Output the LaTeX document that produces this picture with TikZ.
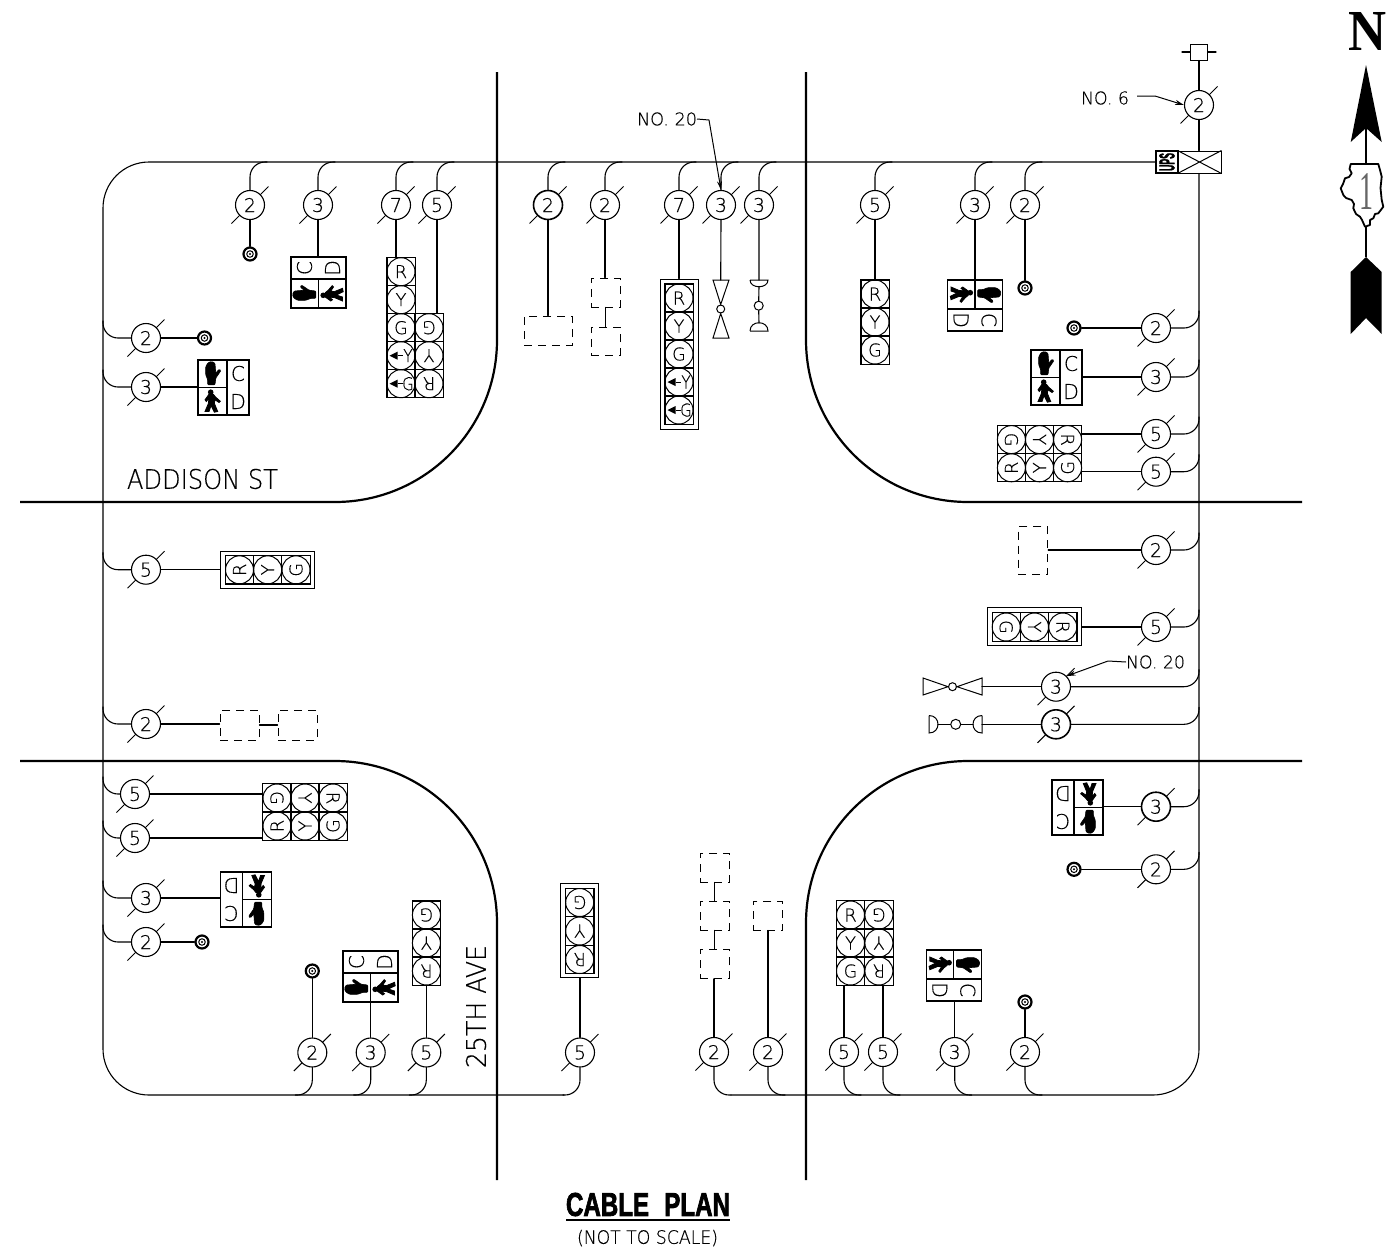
\documentclass[tikz,border=0pt]{standalone}
\usepackage{fontspec}
\usepackage{graphicx}
\usetikzlibrary{arrows.meta,calc}
\setmainfont{Liberation Sans}
\newfontfamily\cadf[FakeBold=0.4]{DejaVu Sans ExtraLight}
\newfontfamily\heavyf[FakeBold=2.5]{Liberation Sans Bold}
\newfontfamily\northf{Liberation Serif Bold}
\newfontfamily\shieldf{Liberation Serif}
\newcommand{\cadh}[2]{\resizebox{!}{#1pt}{\cadf #2}}
\newcommand{\cadwh}[3]{\resizebox{#1pt}{#2pt}{\cadf #3}}
\newcount\cellno
\tikzset{
  wire/.style={line width=1.1pt,line cap=round},
  road/.style={line width=2.2pt},
  lead/.style={line width=1pt,-{Stealth[length=9pt,width=5pt]}},
  cabc/.style={circle,draw,fill=white,minimum size=29pt,inner sep=0pt,line width=1.1pt},
  cabt/.style={cabc,line width=1.6pt},
  tick/.style={line width=1pt},
  cellsq/.style={rectangle,draw,minimum size=28.2pt,inner sep=0pt,line width=1pt},
  cellci/.style={circle,draw,minimum size=28pt,inner sep=0pt,line width=1pt},
  grp/.style={rectangle,draw,inner sep=0pt,line width=1pt},
  dbox/.style={rectangle,draw,inner sep=0pt,line width=1pt,dash pattern=on 8pt off 6pt},
  pedout/.style={rectangle,draw,inner sep=0pt,line width=1.2pt},
  txt/.style={inner sep=0pt,outer sep=0pt},
  detout/.style={circle,draw,line width=2.2pt,minimum size=13pt,inner sep=0pt,fill=white},
  detin/.style={circle,draw,line width=1pt,minimum size=6.5pt,inner sep=0pt},
  lampc/.style={circle,draw,line width=1pt,minimum size=9pt,inner sep=0pt},
  pedpic/.pic={
    \draw[line width=1.2pt] (3.5,-27.5)--(3.5,27.5) (-25.5,0)--(3.5,0);
    \filldraw[line width=.6pt,rounded corners=1pt,shift={(-11.5,-14)}] (-4.3,11.3)--(3,11.3)--(3.7,4.7)--(9,-3)--(7,-4.3)--(3.7,-0.3)--(3,-10.3)--(-0.3,-12)--(-3.7,-11)--(-6.3,-7)--(-6.3,1.3)--(-4.3,6.3)--cycle;
    \filldraw[line width=.8pt,shift={(-11.5,14)}] (-3,-7.3)--(1.3,-7.3)--(3.7,-4.3)--(8.3,-0.3)--(7,1)--(3,-1.7)--(2.3,1.7)--(5.7,10)--(2.3,10.7)--(-1,4)--(-3,10)--(-7,10)--(-3.7,2.3)--(-3,-3.3)--(-5.7,0)--(-7,-1.7)--cycle;
    \fill[shift={(-11.5,14)}] (-1.3,-9.3) circle[radius=2.8];
    \node[txt,transform shape] (c) at (14.5,-14) {\cadh{15}{C}};
    \node[txt,transform shape] (d) at (14.5,14) {\cadh{15}{D}};
  }
}
\newcommand{\cab}[5][cabc]{%
  \draw[tick] (#3-18.5,#4+18.5)--(#3+18.5,#4-18.5);
  \node[#1] (#2) at (#3,#4) {\cadh{14}{#5}};}
\newcommand{\sigc}[4]{%
  \global\advance\cellno by 1
  \node[cellsq] (sq\the\cellno) at (#1,#2) {};
  \node[cellci,rotate=#4] (ci\the\cellno) at (#1,#2) {\cadh{13}{#3}};}
\newcommand{\arrc}[3]{%
  \global\advance\cellno by 1
  \node[cellsq] (sq\the\cellno) at (#1,#2) {};
  \node[cellci] (ci\the\cellno) at (#1,#2) {};
  \fill (#1-11.5,#2)--(#1-3.5,#2-4)--(#1-3.5,#2+4)--cycle;
  \draw[line width=1pt] (#1-3.5,#2)--(#1+1.5,#2);
  \node[txt] (tx\the\cellno) at (#1+7,#2) {\scalebox{.85}[1]{\cadh{13}{#3}}};}
\newcommand{\pedbox}[6]{%
  \node[pedout,minimum width=#5pt,minimum height=#6pt] (#1) at (#2,#3) {};
  \pic (#1p) [rotate=#4] at (#2,#3) {pedpic};}
\newcommand{\detc}[3]{%
  \node[detout] (#1) at (#2,#3) {};
  \node[detin,fill=white] (#1i) at (#2,#3) {};
  \fill (#2,#3) circle[radius=1.1];}
\newcommand{\brT}[1]{\draw[wire,rounded corners=15pt] (#1.north)--(#1.north |- topbus)--([xshift=17pt]#1.north |- topbus);}
\newcommand{\brL}[1]{\draw[wire,rounded corners=15pt] (#1.west)--(#1.west -| leftbus)--([yshift=17pt]#1.west -| leftbus);}
\newcommand{\brR}[1]{\draw[wire,rounded corners=15pt] (#1.east)--(#1.east -| rightbus)--([yshift=17pt]#1.east -| rightbus);}
\newcommand{\brA}[1]{\draw[wire,rounded corners=15pt] (#1.south)--(#1.south |- botbus)--([xshift=-17pt]#1.south |- botbus);}
\newcommand{\brB}[1]{\draw[wire,rounded corners=15pt] (#1.south)--(#1.south |- botbus)--([xshift=17pt]#1.south |- botbus);}
\newcommand{\wireS}[2]{\draw[wire] (#1.south)--(#1.south |- #2.north);}
\newcommand{\wireN}[2]{\draw[wire] (#1.north)--(#1.north |- #2.south);}
\newcommand{\wireW}[2]{\draw[wire] (#1.west)--(#1.west -| #2.east);}
\newcommand{\wireE}[2]{\draw[wire] (#1.east)--(#1.east -| #2.west);}
\begin{document}
\begin{tikzpicture}[x=1pt,y=-1pt]
\fill[white] (0,0) rectangle (1389,1248);
\useasboundingbox (0,0) rectangle (1389,1248);
\coordinate (topbus) at (600,162);
\coordinate (botbus) at (600,1095);
\coordinate (leftbus) at (103,600);
\coordinate (rightbus) at (1199,600);
% roads
\draw[road,rounded corners=162pt] (497,72)--(497,502)--(20,502);
\draw[road,rounded corners=162pt] (806,72)--(806,502)--(1302,502);
\draw[road,rounded corners=162pt] (20,761)--(497,761)--(497,1180);
\draw[road,rounded corners=162pt] (1302,761)--(806,761)--(806,1180);
% service
\node[rectangle,draw,line width=1pt,minimum width=17pt,minimum height=16pt,inner sep=0pt] (feed) at (1199,52) {};
\coordinate (feedL) at (1182,52); \coordinate (feedR) at (1216,52);
\draw[wire] (feedL)--(feed.west) (feed.east)--(feedR);
\node[rectangle,draw,line width=1pt,minimum width=43pt,minimum height=22pt,inner sep=0pt] (xbox) at (1199.5,162) {};
\draw[line width=1pt] (xbox.north west)--(xbox.south east) (xbox.south west)--(xbox.north east);
\node[rectangle,draw,line width=1.8pt,minimum size=22pt,inner sep=0pt] (ups) at (1167,162) {\rotatebox{90}{\resizebox{18pt}{15pt}{\heavyf UPS}}};
\cab{cS}{1199}{105}{2}
\draw[wire] (feed.south)--(cS.north) (cS.south)--(cS.south |- xbox.north);
% main bus
\coordinate (nwC) at (103,162); \coordinate (swC) at (103,1095); \coordinate (seC) at (1199,1095);
\draw[wire,rounded corners=46pt] (ups.west)--(nwC)--(swC)--(564,1095);
\draw[wire,rounded corners=46pt] (731,1095)--(seC)--(rightbus |- xbox.south);
% ===== north side
\cab{t1}{250}{205}{2}\cab{t2}{318}{205}{3}\cab{t3}{396}{205}{7}\cab{t4}{437}{205}{5}
\cab[cabt]{t5}{548}{205}{2}\cab{t6}{605}{205}{2}\cab{t7}{679}{205}{7}\cab{t8}{721}{205}{3}\cab{t9}{759}{205}{3}
\cab{t10}{875}{205}{5}\cab{t11}{975}{205}{3}\cab{t12}{1025}{205}{2}
\foreach \n in {t1,t2,t3,t4,t5,t6,t7,t8,t9,t10,t11,t12}{\brT{\n}}
\detc{d1}{250}{254}\wireS{t1}{d1}
\pedbox{p1}{318.5}{282.5}{90}{55}{51}\wireS{t2}{p1}
\node[grp,minimum width=28pt,minimum height=140pt] (sA) at (401,327.7) {};
\node[grp,minimum width=28pt,minimum height=84pt] (sB) at (429,355.7) {};
\sigc{401}{271.7}{R}{0}\sigc{401}{299.7}{Y}{0}\sigc{401}{327.7}{G}{0}\arrc{401}{355.7}{Y}\arrc{401}{383.7}{G}
\sigc{429}{327.7}{G}{180}\sigc{429}{355.7}{Y}{180}\sigc{429}{383.7}{R}{180}
\wireS{t3}{sA}\wireS{t4}{sB}
\node[dbox,minimum width=48pt,minimum height=29pt] (da1) at (548,330.5) {};
\wireS{t5}{da1}
\node[dbox,minimum width=29pt,minimum height=29pt] (da2) at (605.5,292.5) {};
\node[dbox,minimum width=29pt,minimum height=28pt] (da3) at (605.5,341) {};
\wireS{t6}{da2}\draw[wire] (da2.south)--(da3.north);
\node[grp,minimum width=38pt,minimum height=150pt] (sC) at (679,354) {};
\node[grp,minimum width=28pt,minimum height=140pt] (sCi) at (679,354) {};
\sigc{679}{298}{R}{0}\sigc{679}{326}{Y}{0}\sigc{679}{354}{G}{0}\arrc{679}{382}{Y}\arrc{679}{410}{G}
\wireS{t7}{sC}
% vehicle lamp symbols
\node[lampc,minimum size=8pt] (bt1) at (720.7,309) {};
\draw[line width=1pt] (713,280)--(729,280)--(bt1.north)--cycle (bt1.south)--(713,338)--(729,338)--cycle;
\coordinate (bt1t) at (720.7,280);
\draw[wire] (t8.south)--(bt1t);
\node[lampc] (ph1) at (758.7,305.7) {};
\draw[line width=1pt] (750,280)--(768,280) .. controls (768,289) and (750,289) .. (750,280);
\draw[line width=1pt] (750,331)--(768,331) .. controls (768,320) and (750,320) .. (750,331);
\coordinate (ph1a) at (759,286.5); \coordinate (ph1b) at (759,323);
\draw[wire] (t9.south)--(759,280) (ph1a)--(ph1.north) (ph1.south)--(ph1b);
\node[txt] (n20a) at (667,119) {\cadwh{60}{13}{NO. 20}};
\coordinate (n20ak) at (709,120);
\draw[lead] (n20a.east)--(n20ak)--(t8.north);
\node[grp,minimum width=28pt,minimum height=84pt] (sD) at (875,322) {};
\sigc{875}{294}{R}{0}\sigc{875}{322}{Y}{0}\sigc{875}{350}{G}{0}
\wireS{t10}{sD}
\pedbox{p2}{975}{305.5}{270}{55}{51}\wireS{t11}{p2}
\detc{d2}{1025}{288}\wireS{t12}{d2}
\node[txt] (n6) at (1105,98) {\cadwh{48}{13}{NO. 6}};
\coordinate (n6a) at (1137,96); \coordinate (n6b) at (1155,96);
\draw[lead] (n6a)--(n6b)--(cS.west);
% ===== east side
\cab{r1}{1156}{328}{2}\cab{r2}{1156}{377}{3}\cab{r3}{1156}{434}{5}\cab{r4}{1156}{471.7}{5}\cab{r5}{1156}{550}{2}\cab{r6}{1156}{627}{5}
\cab{r7}{1056}{686.7}{3}\cab[cabt]{r8}{1056}{724.3}{3}\cab[cabt]{r9}{1156}{806.7}{3}\cab{r10}{1156}{869.3}{2}
\foreach \n in {r1,r2,r3,r4,r5,r6,r7,r8,r9,r10}{\brR{\n}}
\detc{d3}{1074}{328}\wireW{r1}{d3}
\pedbox{p3}{1056.5}{377.5}{0}{51}{55}\wireW{r2}{p3}
\node[grp,minimum width=84.4pt,minimum height=56.4pt] (sE) at (1039.5,453.7) {};
\sigc{1011.4}{439.6}{G}{270}\sigc{1039.5}{439.6}{Y}{270}\sigc{1067.6}{439.6}{R}{270}
\sigc{1011.4}{467.8}{R}{90}\sigc{1039.5}{467.8}{Y}{90}\sigc{1067.6}{467.8}{G}{90}
\wireW{r3}{sE}\wireW{r4}{sE}
\node[dbox,minimum width=29.5pt,minimum height=48pt] (da4) at (1033,550.5) {};
\wireW{r5}{da4}
\node[grp,minimum width=93.3pt,minimum height=38pt] (sF) at (1034.5,626.7) {};
\node[grp,minimum width=85pt,minimum height=28.6pt] (sFi) at (1034.5,627) {};
\sigc{1006.2}{627}{G}{270}\sigc{1034.5}{627}{Y}{270}\sigc{1062.8}{627}{R}{270}
\wireW{r6}{sF}
\node[lampc,minimum size=8pt] (bt2) at (952.5,686.7) {};
\draw[line width=1pt] (923,678)--(923,695)--(bt2.west)--cycle (bt2.east)--(982,678)--(982,695)--cycle;
\coordinate (bt2e) at (982,686.7);
\draw[wire] (r7.west)--(bt2e);
\node[lampc,minimum size=10pt] (ph2) at (955.7,724.3) {};
\draw[line width=1pt] (929,715.5)--(929,733) .. controls (941,733) and (941,715.5) .. (929,715.5);
\draw[line width=1pt] (982,715.5)--(982,733) .. controls (970,733) and (970,715.5) .. (982,715.5);
\coordinate (ph2a) at (938,724.3); \coordinate (ph2b) at (973,724.3); \coordinate (ph2c) at (982,724.3);
\draw[wire] (ph2a)--(ph2.west) (ph2.east)--(ph2b) (ph2c)--(r8.west);
\node[txt] (n20b) at (1155.5,662) {\cadwh{59}{13}{NO. 20}};
\coordinate (n20bk) at (1108,661);
\draw[lead] (n20b.west)--(n20bk)--(r7.45);
\pedbox{p4}{1077.5}{807.5}{180}{51}{55}\wireW{r9}{p4}
\detc{d4}{1074}{869.3}\wireW{r10}{d4}
% ===== west side
\cab{l1}{146}{338}{2}\cab{l2}{146}{387}{3}\cab{l3}{146}{569.7}{5}\cab{l4}{146}{724}{2}
\cab{l5}{135}{794}{5}\cab{l6}{135}{838}{5}\cab{l7}{146}{898}{3}\cab{l8}{146}{942}{2}
\foreach \n in {l1,l2,l3,l4,l5,l6,l7,l8}{\brL{\n}}
\detc{d5}{204.5}{338}\wireE{l1}{d5}
\pedbox{p5}{223.5}{387.5}{0}{51}{55}\wireE{l2}{p5}
\node[grp,minimum width=93.6pt,minimum height=37.4pt] (sG) at (267.5,569.7) {};
\node[grp,minimum width=85pt,minimum height=28.4pt] (sGi) at (267.7,569.8) {};
\sigc{239.5}{569.8}{R}{90}\sigc{267.7}{569.8}{Y}{90}\sigc{296}{569.8}{G}{90}
\wireE{l3}{sG}
\node[dbox,minimum width=39pt,minimum height=30pt] (da5) at (239.5,725) {};
\node[dbox,minimum width=39pt,minimum height=30pt] (da6) at (297.5,725) {};
\wireE{l4}{da5}\draw[wire] (da5.east)--(da6.west);
\node[grp,minimum width=84.4pt,minimum height=56.4pt] (sH) at (305,812) {};
\sigc{277}{798}{G}{270}\sigc{305}{798}{Y}{270}\sigc{333}{798}{R}{270}
\sigc{277}{826}{R}{90}\sigc{305}{826}{Y}{90}\sigc{333}{826}{G}{90}
\wireE{l5}{sH}\draw[wire] (l6.east)--(l6.east -| sH.west);
\pedbox{p6}{246}{899.5}{180}{51}{55}\wireE{l7}{p6}
\detc{d6}{202}{942}\wireE{l8}{d6}
% ===== south side
\cab{b1}{312.3}{1052.5}{2}\cab{b2}{370.7}{1052.5}{3}\cab{b3}{426.3}{1052.5}{5}\cab{b4}{580}{1052.5}{5}
\cab{b5}{714}{1052}{2}\cab{b6}{768}{1052}{2}\cab{b7}{844}{1052}{5}\cab{b8}{883}{1052}{5}\cab{b9}{954.7}{1052}{3}\cab{b10}{1025}{1052}{2}
\foreach \n in {b1,b2,b3,b4}{\brA{\n}}
\foreach \n in {b5,b6,b7,b8,b9,b10}{\brB{\n}}
\detc{d7}{312.3}{971}\wireN{b1}{d7}
\pedbox{p7}{370.5}{976.5}{90}{55}{51}\wireN{b2}{p7}
\node[grp,minimum width=28.6pt,minimum height=84pt] (sI) at (426.4,943) {};
\sigc{426.4}{915}{G}{180}\sigc{426.4}{943}{Y}{180}\sigc{426.4}{971}{R}{180}
\wireN{b3}{sI}
\node[grp,minimum width=37.6pt,minimum height=93.3pt] (sJ) at (579.5,930.6) {};
\node[grp,minimum width=28.6pt,minimum height=85pt] (sJi) at (579.7,931) {};
\sigc{579.7}{902.5}{G}{180}\sigc{579.7}{931}{Y}{180}\sigc{579.7}{959.5}{R}{180}
\wireN{b4}{sJ}
\node[dbox,minimum width=29pt,minimum height=29pt] (da7) at (714.5,867.5) {};
\node[dbox,minimum width=29pt,minimum height=29pt] (da8) at (714.5,915.5) {};
\node[dbox,minimum width=29pt,minimum height=29pt] (da9) at (714.5,963.8) {};
\wireN{b5}{da9}\draw[wire] (da9.north)--(da8.south) (da8.north)--(da7.south);
\node[dbox,minimum width=29.5pt,minimum height=29pt] (da10) at (768,915.5) {};
\wireN{b6}{da10}
\node[grp,minimum width=28.4pt,minimum height=84.3pt] (sK) at (850.5,943) {};
\node[grp,minimum width=28.4pt,minimum height=84.3pt] (sL) at (878.9,943) {};
\sigc{850.5}{915}{R}{0}\sigc{850.5}{943}{Y}{0}\sigc{850.5}{971}{G}{0}
\sigc{878.9}{915}{G}{180}\sigc{878.9}{943}{Y}{180}\sigc{878.9}{971}{R}{180}
\wireN{b7}{sK}\wireN{b8}{sL}
\pedbox{p8}{953.8}{975.5}{270}{55}{51}\wireN{b9}{p8}
\detc{d8}{1025}{1002}\wireN{b10}{d8}
% labels
\node[txt] (addison) at (202.5,479) {\cadwh{151}{20}{ADDISON ST}};
\node[txt,rotate=90] (ave) at (476,1006.5) {\cadwh{123}{20}{25TH AVE}};
\node[txt] (title) at (648,1204.5) {\resizebox{164pt}{23pt}{\heavyf CABLE\hspace{.35em} PLAN}};
\draw[line width=1.4pt] ([yshift=-4pt]title.south west)--([yshift=-4pt]title.south east);
\node[txt] (sub) at (647.5,1238) {\cadwh{141}{14}{(NOT TO SCALE)}};
% north arrow
\node[txt] (north) at (1367,31) {\resizebox{38pt}{38pt}{\northf N}};
\fill[black] (1366,65)--(1381.7,142)--(1366,128)--(1350.7,142)--cycle;
\fill[black] (1366,257)--(1381.7,272)--(1381.7,334)--(1366,318)--(1350.7,334)--(1350.7,272)--cycle;
\draw[black,line width=1.2pt] (1366,128)--(1366,164) (1366,226.7)--(1366,257);
\draw[black,line width=1.8pt,line join=round] (1350.7,164)--(1378.3,164)--(1380,170)--(1381.7,176.7)--(1380.5,188)--(1381.7,200)--(1383.3,206.7)--(1378.3,213.3)--(1375,214)--(1373.3,218.3)--(1370,220)--(1370,225)--(1365,226.7)--(1362,220)--(1360,216.7)--(1356,214)--(1353.3,208.3)--(1354,204)--(1351.7,200)--(1346,198)--(1343.3,195)--(1340.7,188.3)--(1343,184)--(1345,178.3)--(1349,177)--(1351.7,173.3)--(1349.5,169)--cycle;
\node[txt,text=black!60] (shield) at (1366,191) {\resizebox{14pt}{36pt}{\shieldf 1}};
\end{tikzpicture}
\end{document}
